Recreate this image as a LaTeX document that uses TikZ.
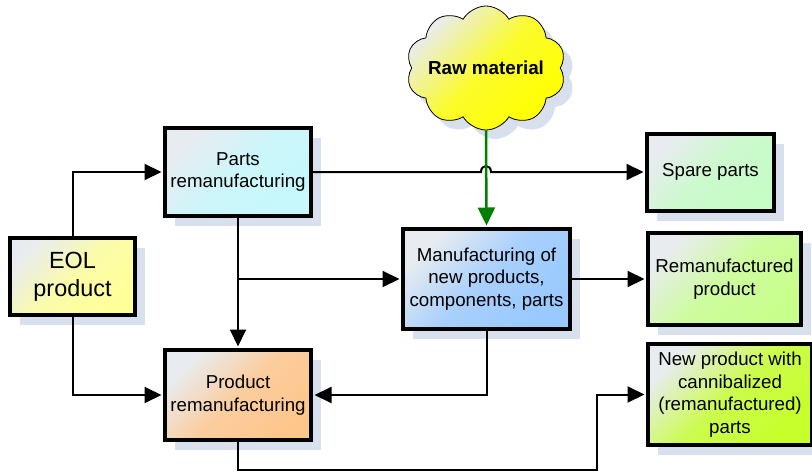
\documentclass[tikz,border=0pt]{standalone}
\usepackage{fontspec}
\setmainfont{Liberation Sans}
\usetikzlibrary{shapes.symbols,shadows,arrows.meta}

\definecolor{shadowc}{HTML}{D8E0EE}
\definecolor{tlgrey}{HTML}{E8ECF0}
\definecolor{partsc}{HTML}{C6F8FC}
\definecolor{eolc}{HTML}{FFFF99}
\definecolor{prodc}{HTML}{FFC68C}
\definecolor{manuc}{HTML}{99C9FF}
\definecolor{sparec}{HTML}{C6FCC6}
\definecolor{remanc}{HTML}{C8FF8C}
\definecolor{newc}{HTML}{C6FF2A}
\definecolor{cloudc}{HTML}{FFFF00}
\definecolor{arrgreen}{HTML}{008000}

\tikzset{
  procbox/.style={draw=black, line width=4pt, rectangle, align=center,
    inner sep=2pt, font=\fontsize{18.7}{22.5}\selectfont,
    drop shadow={shadow xshift=10pt, shadow yshift=-10pt, fill=shadowc, opacity=1}},
  grad/.style={top color=tlgrey, bottom color=#1, middle color=#1!82!tlgrey, shading angle=45},
  arr/.style={line width=2pt, -{Triangle[length=17pt,width=16pt]}, shorten >=1.5pt},
}

\begin{document}
\begin{tikzpicture}[x=1pt,y=-1pt]
\useasboundingbox (0,0) rectangle (812,474);

% process boxes
\node[procbox, grad=partsc, minimum width=146pt, minimum height=88pt] (parts) at (238,172) {Parts\\remanufacturing};
\node[procbox, grad=eolc, minimum width=125pt, minimum height=77pt,
      font=\fontsize{23.4}{28}\selectfont] (eol) at (72.5,276.5) {EOL\\product};
\node[procbox, grad=prodc, minimum width=146pt, minimum height=90pt] (prod) at (238,395) {Product\\remanufacturing};
\node[procbox, grad=manuc, minimum width=167pt, minimum height=100pt] (manu) at (486.5,279) {Manufacturing of\\new products,\\components, parts};
\node[procbox, grad=sparec, minimum width=127pt, minimum height=77pt] (spare) at (710.5,172) {Spare parts};
\node[procbox, grad=remanc, minimum width=153pt, minimum height=92pt] (reman) at (724.5,279) {Remanufactured\\product};
\node[procbox, grad=newc, minimum width=164pt, minimum height=101pt] (newp) at (730,394.5) {New product with\\cannibalized\\(remanufactured)\\parts};

% raw material cloud
\node[cloud, cloud puffs=10, cloud puff arc=120, cloud ignores aspect,
      draw=black, line width=0.8pt, grad=cloudc, inner sep=0pt,
      minimum width=158pt, minimum height=124pt,
      font=\bfseries\fontsize{18.8}{22}\selectfont,
      drop shadow={shadow xshift=9pt, shadow yshift=-9pt, fill=shadowc, opacity=1}]
      (raw) at (486,68) {Raw material};

% helper points
\coordinate (split) at (parts.south |- manu.west);
\coordinate (low) at (597,470);
\coordinate (hopL) at (481,172);
\coordinate (hopR) at (491,172);

% connectors
\draw[arr] (eol.north) |- (parts.west);
\draw[arr] (eol.south) |- (prod.west);
\draw[arr] (parts.south) -- (prod.north);
\draw[arr] (split) -- (manu.west);
\draw[arr] (manu.south) |- (prod.east);
\draw[arr] (manu.east) -- (reman.west);
\draw[arr] (prod.south) |- (low) |- (newp.west);
\draw[arr] (parts.east) -- (hopL) .. controls (481,164) and (491,164) .. (hopR) -- (spare.west);

% raw material feed
\draw[line width=2.5pt, arrgreen, -{Triangle[length=18pt,width=17pt]}, shorten >=1.5pt]
  (raw.south) -- (manu.north);
\end{tikzpicture}
\end{document}
